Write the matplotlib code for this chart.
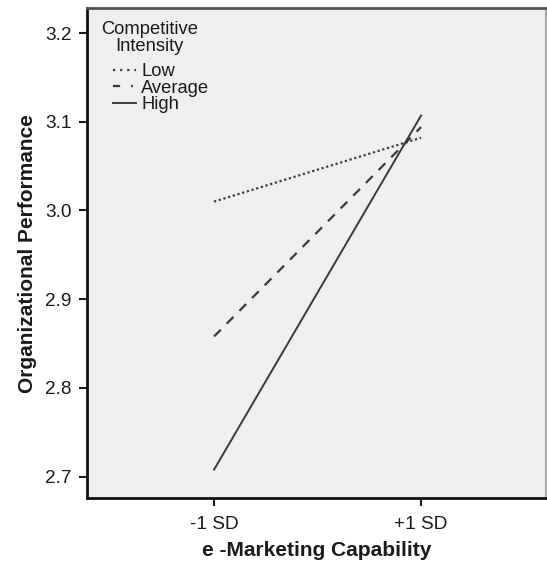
import matplotlib
matplotlib.use("Agg")
import matplotlib.pyplot as plt

plt.rcParams['font.family'] = ['Liberation Sans', 'DejaVu Sans']

# Simple-slopes data: organizational performance at -1 SD / +1 SD of e-marketing capability
x_labels = ["-1 SD", "+1 SD"]
groups = ["Low", "Average", "High"]
low_vals = [3.010, 3.082]
avg_vals = [2.858, 3.094]
high_vals = [2.708, 3.107]
y_ticks = [2.7, 2.8, 2.9, 3.0, 3.1, 3.2]

fig = plt.figure(figsize=(5.47, 5.63), dpi=100)
ax = fig.add_axes([0.159, 0.1155, 0.839, 0.87])
ax.set_facecolor('#efefef')

xs = [0, 1]
line_color = '#3a3a3a'
ax.plot(xs, low_vals, color=line_color, lw=1.6, linestyle=(0, (1, 1.2)), label=groups[0])
ax.plot(xs, avg_vals, color=line_color, lw=1.6, linestyle=(0, (4.3, 3.8)), label=groups[1])
ax.plot(xs, high_vals, color=line_color, lw=1.4, linestyle='-', label=groups[2])

ax.set_xlim(-0.614, 1.603)
ax.set_ylim(2.676, 3.228)
ax.set_xticks(xs)
ax.set_xticklabels(x_labels)
ax.set_yticks(y_ticks)
ax.set_yticklabels([f"{v:.1f}" for v in y_ticks])

text_color = '#1a1a1a'
ax.tick_params(axis='both', direction='out', length=6, width=1.5, labelsize=13.7,
               colors=text_color)
ax.tick_params(axis='y', pad=5)
ax.tick_params(axis='x', pad=7)
for side in ('left', 'bottom'):
    ax.spines[side].set_linewidth(2.0)
    ax.spines[side].set_color('#111111')
ax.spines['top'].set_linewidth(2.0)
ax.spines['top'].set_color('#555555')
ax.spines['right'].set_linewidth(1.5)
ax.spines['right'].set_color('#aaaaaa')

ax.set_xlabel("e -Marketing Capability", fontsize=15, fontweight='bold', labelpad=6,
              color=text_color)
ax.set_ylabel("Organizational Performance", fontsize=15, fontweight='bold', labelpad=6,
              color=text_color)

# Legend title drawn as centred two-line text, entries listed beneath it
ax.text(0.137, 0.939, "Competitive\nIntensity", transform=ax.transAxes,
        ha='center', va='center', multialignment='center', linespacing=1.0,
        fontsize=13.2, color=text_color)
leg = ax.legend(loc='upper left', bbox_to_anchor=(0.0566, 0.888), frameon=False,
                fontsize=13.2, handlelength=1.25, handletextpad=0.3,
                labelspacing=-0.02, borderaxespad=0.0, borderpad=0.0)
for txt in leg.get_texts():
    txt.set_color(text_color)
handles = leg.get_lines()
handles[0].set_dashes([1.0, 2.2])
handles[1].set_dashes([3.2, 5.0, 0.8, 10])

fig.savefig("out.png", dpi=100)
